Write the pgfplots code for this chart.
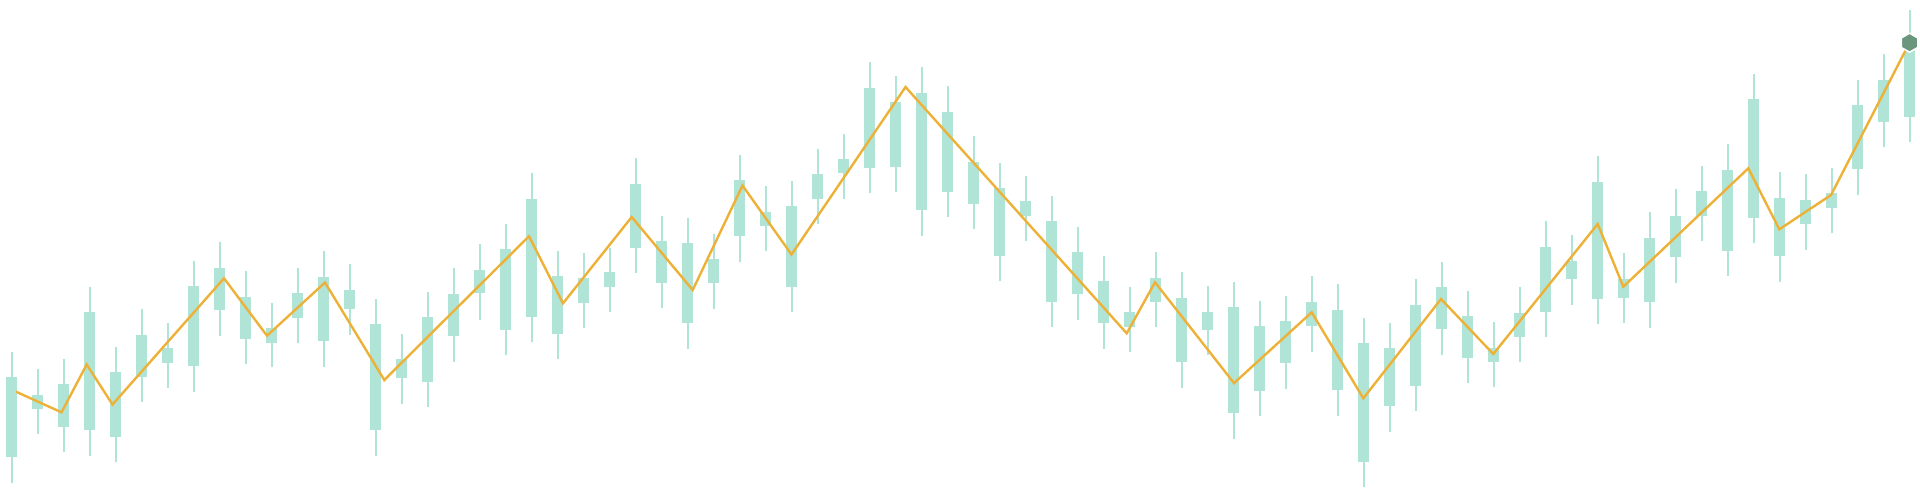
\documentclass[border=0pt]{standalone}
\usepackage{pgfplots}
\usepackage{pgfplotstable}
\pgfplotsset{compat=1.18}
\definecolor{candle}{RGB}{176,228,214}
\definecolor{trend}{RGB}{238,177,56}
\definecolor{marker}{RGB}{106,150,126}

% pointy-top hexagon mark
\pgfdeclareplotmark{hexagon}{%
  \pgfpathmoveto{\pgfpointpolar{90}{\pgfplotmarksize}}%
  \pgfpathlineto{\pgfpointpolar{150}{\pgfplotmarksize}}%
  \pgfpathlineto{\pgfpointpolar{210}{\pgfplotmarksize}}%
  \pgfpathlineto{\pgfpointpolar{270}{\pgfplotmarksize}}%
  \pgfpathlineto{\pgfpointpolar{330}{\pgfplotmarksize}}%
  \pgfpathlineto{\pgfpointpolar{30}{\pgfplotmarksize}}%
  \pgfpathclose
  \pgfusepathqfillstroke}

% x: candle centre, lo/hi: wick ends, bl/bh: body ends
\pgfplotstableread{
x lo bl bh hi
11.7 11.7 37.7 118.3 143.3
37.7 61 86 100 125.7
63.7 42.7 68.3 110.7 135.7
89.7 39.3 65 183.3 208.3
115.7 33.3 58.3 122.7 148.3
141.7 92.7 118.3 160 185.7
167.7 107.3 132.3 146.7 172.3
193.7 103.3 129 209 234.3
219.7 159.3 185 226.7 252.7
245.7 130.7 156.3 198.3 224
271.7 127.7 152.3 166.7 192.3
297.7 151.7 177.3 201.7 226.7
323.7 128.3 154 218.3 244
349.7 160 186.3 205 230.7
375.7 39.3 65 171 196
401.7 91 116.7 135.7 161
427.7 87.7 113 177.7 202.7
453.7 132.7 159 201 226.7
479.7 175.3 201.7 225 251
505.7 140 165 246.3 271
531.7 153.3 178.3 296.3 322.3
557.7 135.7 160.7 219 244.3
583.7 166.7 191.7 216.7 241.7
609.7 183.3 208.3 222.7 246.7
635.7 221.7 246.7 311 336.7
661.7 186.7 211.7 254.3 279.3
687.7 145.7 171.7 251.7 277.3
713.7 185.7 211.7 235.7 260.7
739.7 233.3 259 314.7 340
765.7 244 269 283.3 309
791.7 183.3 208.3 289 314
817.7 271 296 320.7 346
843.7 296 321.7 336 361
869.7 301.7 327.3 407.3 433.3
895.7 303.3 328.3 393.3 419
921.7 259.3 285 402.3 427.7
947.7 278.3 303.3 383.3 409.3
973.7 265.7 291 332.7 359
999.7 214 239.3 306.7 332.3
1025.7 254 279.3 293.7 319
1051.7 168.3 193.3 274 299.3
1077.7 175 200.7 242.7 267.7
1103.7 146 171.7 214 239
1129.7 143.3 168.3 182.7 207.7
1155.7 167.7 192.7 217.3 242.7
1181.7 107.3 132.7 197.3 222.7
1207.7 140 165 183.3 209.3
1233.7 56 81.7 187.7 213.3
1259.7 79 104.3 169 194
1285.7 106 131.7 174 199.3
1311.7 143.3 169.3 192.7 219
1337.7 79.3 105 185 210.7
1363.7 7.7 33.3 151.7 176.7
1389.7 63.3 89 146.7 172.3
1415.7 84 109.3 190 215.7
1441.7 140 165.7 207.7 233.3
1467.7 111.7 136.7 179 204.3
1493.7 107.7 133.3 147.3 173.3
1519.7 132.7 158.3 182.3 207.7
1545.7 158.3 183.3 248.3 274
1571.7 190 215.7 234.3 260
1597.7 170.7 196 313.3 339.3
1623.7 171.7 197.3 215.7 241.7
1649.7 167.3 192.7 257.3 282.7
1675.7 211.7 237.7 279.3 305.7
1701.7 254.3 279.3 304 329.3
1727.7 219 244.3 325 350.7
1753.7 251.7 277.3 395.7 421
1779.7 213.3 239.3 297.3 322.7
1805.7 245 271 295 321
1831.7 261.7 287.3 301.7 326.7
1857.7 300 325.7 390 415
1883.7 347.7 373.3 415 441
1909.7 352.7 378.3 448 485
}\candles

\begin{document}
\begin{tikzpicture}
\begin{axis}[
    scale only axis,
    width=19.2cm, height=4.95cm,
    xmin=0, xmax=1920, ymin=0, ymax=495,
    hide axis, clip=false,
]
% wicks (points hidden, only the error bars show)
\addplot[only marks, mark=*, mark options={opacity=0},
    error bars/.cd, y dir=plus, y explicit, error mark=none,
    error bar style={candle, line width=0.2mm}]
    table[x=x, y=lo, y error plus expr=\thisrow{hi}-\thisrow{lo}] {\candles};
% bodies
\addplot[only marks, mark=*, mark options={opacity=0},
    error bars/.cd, y dir=plus, y explicit, error mark=none,
    error bar style={candle, line width=1.1mm}]
    table[x=x, y=bl, y error plus expr=\thisrow{bh}-\thisrow{bl}] {\candles};
% trend line
\addplot[trend, line width=0.24mm, line join=miter] coordinates {
    (16,103.3) (61.5,82.7) (86.7,130.5) (112.5,90.5) (224,216.7) (267,159.3)
    (325,212.5) (384.3,115) (529,258.8) (563,191.7) (631.7,278) (692.7,205)
    (742.5,309.5) (791.5,240.5) (905.5,408) (1126.7,161.7) (1155,212.7)
    (1234,111.9) (1311.7,182.7) (1363.3,96.7) (1441,196) (1493.3,141)
    (1597.7,271) (1623.3,208.3) (1748.3,326.7) (1779.3,265.7) (1831,300)
    (1909.5,452.3)
};
% end marker
\addplot[only marks, mark=hexagon, mark size=0.95mm,
    mark options={fill=marker, draw=white, line width=0.15mm}]
    coordinates {(1909.5,452.3)};
\end{axis}
\pgfresetboundingbox
\path (current axis.south west) rectangle (current axis.north east);
\end{tikzpicture}
\end{document}
